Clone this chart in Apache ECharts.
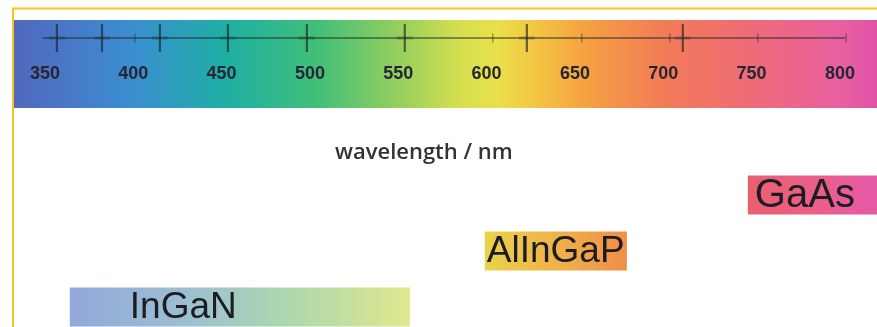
<!DOCTYPE html>
<html><head><meta charset="utf-8">
<script src="https://cdn.jsdelivr.net/npm/echarts@6/dist/echarts.min.js"></script>
<style>html,body{margin:0;padding:0;background:#fff}#c{width:877px;height:327px}</style>
</head><body><div id="c"></div>
<script>
// ---- data ----
const tickLabels = [350, 400, 450, 500, 550, 600, 650, 700, 750, 800];
const majorTickMarks = [356.8, 382.3, 415.1, 453.6, 498.3, 553.7, 622.8, 711.1];
const minorTickMarks = [400.9, 603.5, 653.9, 703.7, 753.5, 803.5];
const axisLineRange = [348.9, 802.8];
const materials = ['GaAs', 'AlInGaP', 'InGaN'];
const rangeStart = [747.9, 599.0, 364.1];
const rangeEnd = [821, 679.4, 556.6];
const axisTitle = 'wavelength / nm';

// ---- styles ----
const X_MIN = 332.5, X_MAX = 821;
const barGradients = [
  [[0, '#e9606e'], [0.5, '#ea5f86'], [1, '#e659a6']],
  [[0, '#e8d44a'], [0.5, '#f0b24a'], [1, '#f08e4a']],
  [[0, '#92a8da'], [0.35, '#9cc0d2'], [0.6, '#a9d6b2'], [0.8, '#c2dea0'], [1, '#e2e88e']]
];
const labelInset = [7, 2, 60];
const labelSize = [40, 37, 37];
const lineY = 18;

const chart = echarts.init(document.getElementById('c'), null, {renderer: 'canvas'});
chart.setOption({
  animation: false,
  backgroundColor: '#ffffff',
  title: {
    text: axisTitle, left: 330, top: 137,
    textStyle: {fontFamily: 'Open Sans', fontWeight: 600, fontSize: 22, color: '#333333'}
  },
  graphic: [{
    type: 'polyline', silent: true, z: 100,
    shape: {points: [[13, 327], [13, 8.5], [877, 8.5]]},
    style: {stroke: '#ffc21a', lineWidth: 2, fill: null}
  }],
  grid: [
    {left: 14, right: 0, top: 20, height: 88, show: true, borderWidth: 0,
     backgroundColor: {type: 'linear', x: 0, y: 0, x2: 1, y2: 0, colorStops: [
       {offset: 0, color: '#5068bc'}, {offset: 0.053, color: '#4a76c6'},
       {offset: 0.14, color: '#3a8fd0'}, {offset: 0.245, color: '#1eafa4'},
       {offset: 0.35, color: '#40bf78'}, {offset: 0.453, color: '#9cd05c'},
       {offset: 0.517, color: '#d6df50'}, {offset: 0.56, color: '#e9e04a'},
       {offset: 0.61, color: '#f4c242'}, {offset: 0.66, color: '#f5a242'},
       {offset: 0.758, color: '#f27a58'}, {offset: 0.86, color: '#ee6a7a'},
       {offset: 0.957, color: '#e860a0'}, {offset: 1, color: '#e052a8'}]}},
    {left: 14, right: 0, top: 167, height: 160}
  ],
  xAxis: [
    {gridIndex: 0, type: 'value', min: X_MIN, max: X_MAX, position: 'bottom',
     axisLine: {show: false}, axisTick: {show: false}, splitLine: {show: false},
     axisLabel: {inside: true, margin: 25, customValues: tickLabels,
       fontFamily: 'Liberation Sans', fontWeight: 'bold', fontSize: 18, color: '#262634'}},
    {gridIndex: 1, type: 'value', min: X_MIN, max: X_MAX, show: false}
  ],
  yAxis: [
    {gridIndex: 0, type: 'value', min: 0, max: 88, inverse: true, show: false},
    {gridIndex: 1, type: 'value', min: -0.5, max: 2.357, inverse: true, show: false}
  ],
  series: [
    {type: 'line', xAxisIndex: 0, yAxisIndex: 0, symbol: 'none', silent: true,
     lineStyle: {color: 'rgba(30,40,40,0.65)', width: 1.5},
     data: axisLineRange.map(v => [v, lineY])},
    {type: 'scatter', xAxisIndex: 0, yAxisIndex: 0, symbol: 'rect', symbolSize: [2.2, 28], silent: true,
     itemStyle: {color: 'rgba(25,35,35,0.8)'},
     data: majorTickMarks.map(v => [v, lineY])},
    {type: 'scatter', xAxisIndex: 0, yAxisIndex: 0, symbol: 'rect', symbolSize: [16, 3], silent: true,
     itemStyle: {color: 'rgba(25,35,35,0.35)'},
     data: majorTickMarks.map(v => [v, lineY])},
    {type: 'scatter', xAxisIndex: 0, yAxisIndex: 0, symbol: 'rect', symbolSize: [1.5, 9], silent: true,
     itemStyle: {color: 'rgba(25,35,35,0.5)'},
     data: minorTickMarks.map(v => [v, lineY])},
    {type: 'custom', xAxisIndex: 1, yAxisIndex: 1, clip: true,
     data: materials.map((m, i) => [i, rangeStart[i], rangeEnd[i]]),
     renderItem: function (params, api) {
       const i = api.value(0);
       const p0 = api.coord([api.value(1), i]);
       const p1 = api.coord([api.value(2), i]);
       const h = 39;
       const stops = barGradients[i].map(s => ({offset: s[0], color: s[1]}));
       return {type: 'group', children: [
         {type: 'rect', shape: {x: p0[0], y: p0[1] - h / 2, width: p1[0] - p0[0], height: h},
          style: {fill: new echarts.graphic.LinearGradient(0, 0, 1, 0, stops)}},
         {type: 'text', x: p0[0] + labelInset[i], y: p0[1] + 1,
          style: {text: materials[i], fontFamily: 'Liberation Sans', fontSize: labelSize[i],
                  fill: '#1c1c22', verticalAlign: 'middle', align: 'left'}}
       ]};
     }}
  ]
});
</script></body></html>
